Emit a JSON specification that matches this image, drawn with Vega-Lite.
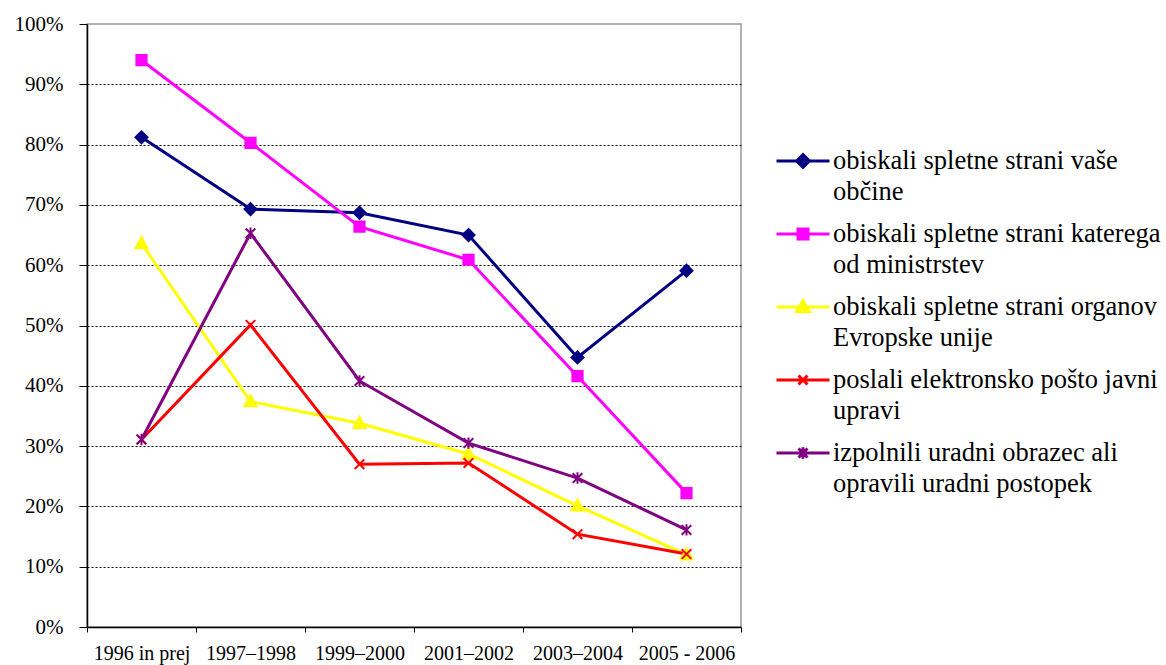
{
  "$schema": "https://vega.github.io/schema/vega-lite/v6.json",
  "width": 654,
  "height": 603,
  "autosize": {"type": "none"},
  "padding": {"left": 87, "top": 24, "right": 425, "bottom": 38},
  "background": "white",
  "config": {
    "view": {"stroke": "#999999", "strokeWidth": 1.5},
    "font": "Liberation Serif"
  },
  "data": {
    "values": [
      {"series": "obiskali spletne strani vaše občine", "period": "1996 in prej", "value": 81.2},
      {"series": "obiskali spletne strani vaše občine", "period": "1997–1998", "value": 69.3},
      {"series": "obiskali spletne strani vaše občine", "period": "1999–2000", "value": 68.7},
      {"series": "obiskali spletne strani vaše občine", "period": "2001–2002", "value": 65.0},
      {"series": "obiskali spletne strani vaše občine", "period": "2003–2004", "value": 44.7},
      {"series": "obiskali spletne strani vaše občine", "period": "2005 - 2006", "value": 59.1},
      {"series": "obiskali spletne strani katerega od ministrstev", "period": "1996 in prej", "value": 94.0},
      {"series": "obiskali spletne strani katerega od ministrstev", "period": "1997–1998", "value": 80.3},
      {"series": "obiskali spletne strani katerega od ministrstev", "period": "1999–2000", "value": 66.4},
      {"series": "obiskali spletne strani katerega od ministrstev", "period": "2001–2002", "value": 60.9},
      {"series": "obiskali spletne strani katerega od ministrstev", "period": "2003–2004", "value": 41.6},
      {"series": "obiskali spletne strani katerega od ministrstev", "period": "2005 - 2006", "value": 22.2},
      {"series": "obiskali spletne strani organov Evropske unije", "period": "1996 in prej", "value": 63.6},
      {"series": "obiskali spletne strani organov Evropske unije", "period": "1997–1998", "value": 37.4},
      {"series": "obiskali spletne strani organov Evropske unije", "period": "1999–2000", "value": 33.8},
      {"series": "obiskali spletne strani organov Evropske unije", "period": "2001–2002", "value": 28.7},
      {"series": "obiskali spletne strani organov Evropske unije", "period": "2003–2004", "value": 20.1},
      {"series": "obiskali spletne strani organov Evropske unije", "period": "2005 - 2006", "value": 12.0},
      {"series": "poslali elektronsko pošto javni upravi", "period": "1996 in prej", "value": 31.1},
      {"series": "poslali elektronsko pošto javni upravi", "period": "1997–1998", "value": 50.1},
      {"series": "poslali elektronsko pošto javni upravi", "period": "1999–2000", "value": 27.0},
      {"series": "poslali elektronsko pošto javni upravi", "period": "2001–2002", "value": 27.2},
      {"series": "poslali elektronsko pošto javni upravi", "period": "2003–2004", "value": 15.4},
      {"series": "poslali elektronsko pošto javni upravi", "period": "2005 - 2006", "value": 12.1},
      {"series": "izpolnili uradni obrazec ali opravili uradni postopek", "period": "1996 in prej", "value": 31.1},
      {"series": "izpolnili uradni obrazec ali opravili uradni postopek", "period": "1997–1998", "value": 65.3},
      {"series": "izpolnili uradni obrazec ali opravili uradni postopek", "period": "1999–2000", "value": 40.8},
      {"series": "izpolnili uradni obrazec ali opravili uradni postopek", "period": "2001–2002", "value": 30.5},
      {"series": "izpolnili uradni obrazec ali opravili uradni postopek", "period": "2003–2004", "value": 24.7},
      {"series": "izpolnili uradni obrazec ali opravili uradni postopek", "period": "2005 - 2006", "value": 16.1}
    ]
  },
  "encoding": {
    "x": {
      "field": "period",
      "type": "ordinal",
      "sort": ["1996 in prej", "1997–1998", "1999–2000", "2001–2002", "2003–2004", "2005 - 2006"],
      "scale": {"type": "band", "paddingInner": 0, "paddingOuter": 0},
      "axis": {
        "title": null,
        "labelAngle": 0,
        "labelFont": "Liberation Serif",
        "labelFontSize": 20,
        "labelColor": "black",
        "tickBand": "extent",
        "tickColor": "black",
        "tickSize": 5,
        "domainColor": "black",
        "domainWidth": 1.5,
        "labelPadding": 11,
        "grid": false
      }
    },
    "y": {
      "field": "value",
      "type": "quantitative",
      "scale": {"domain": [0, 100], "nice": false},
      "axis": {
        "title": null,
        "values": [0, 10, 20, 30, 40, 50, 60, 70, 80, 90, 100],
        "labelExpr": "datum.value + '%'",
        "labelFont": "Liberation Serif",
        "labelFontSize": 21,
        "labelColor": "black",
        "tickColor": "black",
        "tickSize": 8,
        "labelPadding": 16,
        "domainColor": "black",
        "domainWidth": 1.5,
        "grid": true,
        "gridColor": "black",
        "gridDash": [2, 2],
        "gridWidth": 1,
        "gridOpacity": {"condition": {"test": "datum.value == 0 || datum.value == 100", "value": 0}, "value": 1}
      }
    },
    "color": {
      "field": "series",
      "type": "nominal",
      "scale": {
        "domain": ["obiskali spletne strani vaše občine", "obiskali spletne strani katerega od ministrstev", "obiskali spletne strani organov Evropske unije", "poslali elektronsko pošto javni upravi", "izpolnili uradni obrazec ali opravili uradni postopek"],
        "range": ["#000080", "#FF00FF", "#FFFF00", "#FF0000", "#800080"]
      },
      "legend": {
        "orient": "none",
        "legendX": 688,
        "legendY": 109,
        "title": null,
        "labelFont": "Liberation Serif",
        "labelFontSize": 26.5,
        "labelColor": "black",
        "labelLimit": 600,
        "symbolSize": 2809,
        "symbolStrokeWidth": 3,
        "labelOffset": 2,
        "rowPadding": 0,
        "labelExpr": "[substring(datum.label, 0, lastindexof(substring(datum.label, 0, 33), ' ')), substring(datum.label, lastindexof(substring(datum.label, 0, 33), ' ') + 1)]",
        "encode": {
          "symbols": {
            "update": {
              "shape": {"signal": "datum.value == 'obiskali spletne strani vaše občine' ? 'M-1,0H1M0,-0.24L0.24,0L0,0.24L-0.24,0Z' : datum.value == 'obiskali spletne strani katerega od ministrstev' ? 'M-1,0H1M-0.19,-0.19H0.19V0.19H-0.19Z' : datum.value == 'obiskali spletne strani organov Evropske unije' ? 'M-1,0H1M0,-0.24L0.24,0.18H-0.24Z' : datum.value == 'poslali elektronsko pošto javni upravi' ? 'M-1,0H1M-0.17,-0.17L0.17,0.17M-0.17,0.17L0.17,-0.17' : 'M-1,0H1M-0.17,-0.17L0.17,0.17M-0.17,0.17L0.17,-0.17M0,-0.22V0.22'"},
              "fill": {"scale": "color", "field": "value"},
              "stroke": {"scale": "color", "field": "value"},
              "strokeWidth": {"value": 3},
              "opacity": {"value": 1}
            }
          },
          "labels": {
            "update": {
              "lineHeight": {"value": 31}
            }
          }
        }
      }
    }
  },
  "layer": [
    {"mark": {"type": "line", "strokeWidth": 3}},
    {
      "transform": [{"filter": {"field": "series", "equal": "obiskali spletne strani vaše občine"}}],
      "mark": {"type": "point", "filled": true, "size": 144, "opacity": 1, "strokeWidth": 2, "stroke": "#000080", "shape": "M0,-1L1,0L0,1L-1,0Z"}
    },
    {
      "transform": [{"filter": {"field": "series", "equal": "obiskali spletne strani katerega od ministrstev"}}],
      "mark": {"type": "point", "filled": true, "size": 144, "opacity": 1, "strokeWidth": 2, "stroke": "#FF00FF", "shape": "M-0.85,-0.85H0.85V0.85H-0.85Z"}
    },
    {
      "transform": [{"filter": {"field": "series", "equal": "obiskali spletne strani organov Evropske unije"}}],
      "mark": {"type": "point", "filled": true, "size": 144, "opacity": 1, "strokeWidth": 2, "stroke": "#FFFF00", "shape": "M0,-1.05L1,0.8H-1Z"}
    },
    {
      "transform": [{"filter": {"field": "series", "equal": "poslali elektronsko pošto javni upravi"}}],
      "mark": {"type": "point", "filled": true, "size": 144, "opacity": 1, "strokeWidth": 2, "stroke": "#FF0000", "shape": "M-0.8,-0.8L0.8,0.8M-0.8,0.8L0.8,-0.8"}
    },
    {
      "transform": [{"filter": {"field": "series", "equal": "izpolnili uradni obrazec ali opravili uradni postopek"}}],
      "mark": {"type": "point", "filled": true, "size": 144, "opacity": 1, "strokeWidth": 2, "stroke": "#800080", "shape": "M-0.8,-0.8L0.8,0.8M-0.8,0.8L0.8,-0.8M0,-0.95V0.95"}
    }
  ]
}
